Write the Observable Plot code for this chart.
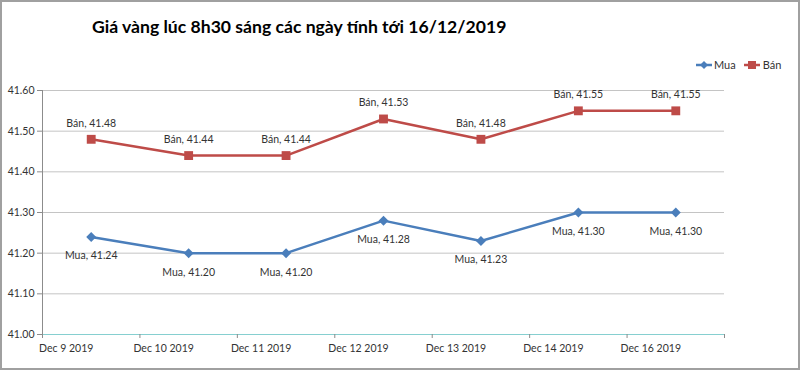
<!DOCTYPE html>
<html><head><meta charset="utf-8">
<script src="https://cdn.jsdelivr.net/npm/d3@7"></script>
<script src="https://cdn.jsdelivr.net/npm/@observablehq/plot@0.6"></script>
<style>
body{margin:0;background:#fff;}
#wrap{position:relative;width:800px;height:370px;overflow:hidden;font-family:Lato,sans-serif;background:#fff;}
#frame{position:absolute;left:0;top:0;width:800px;height:370px;border:2px solid #a0a0a0;box-sizing:border-box;pointer-events:none;}
#title{position:absolute;left:92px;top:16px;font-weight:bold;font-size:17.6px;color:#000;white-space:nowrap;}
#legend{position:absolute;left:696px;top:58px;font-size:11px;color:#333;display:flex;align-items:center;white-space:nowrap;}
#legend svg{display:block;}
#chart{position:absolute;left:0;top:75px;}
</style></head>
<body>
<div id="wrap">
  <div id="title">Giá vàng lúc 8h30 sáng các ngày tính tới 16/12/2019</div>
  <div id="legend">
    <svg width="16" height="12"><line x1="0" y1="6" x2="16" y2="6" stroke="#4a7ebb" stroke-width="2.5"/><path d="M8,2 L12,6 L8,10 L4,6Z" fill="#4a7ebb"/></svg>
    <span style="margin:0 8px 0 2px">Mua</span>
    <svg width="16" height="12"><line x1="0" y1="6" x2="16" y2="6" stroke="#be4b48" stroke-width="2.5"/><rect x="4" y="2" width="8" height="8" fill="#be4b48"/></svg>
    <span style="margin-left:3px">Bán</span>
  </div>
  <div id="chart"></div>
  <div id="frame"></div>
</div>
<script>
const dates = ["Dec 9 2019","Dec 10 2019","Dec 11 2019","Dec 12 2019","Dec 13 2019","Dec 14 2019","Dec 16 2019"];
const mua = [41.24,41.20,41.20,41.28,41.23,41.30,41.30];
const ban = [41.48,41.44,41.44,41.53,41.48,41.55,41.55];
const yTicks = [41.00,41.10,41.20,41.30,41.40,41.50,41.60];

const idx = dates.map((d,i)=>i);
const bounds = idx.map(i=>i-0.5).concat([dates.length-0.5]);
const muaData = idx.map(i=>({i, v:mua[i]}));
const banData = idx.map(i=>({i, v:ban[i]}));
const blue = "#4a7ebb", red = "#be4b48";

const chart = Plot.plot({
  width: 800,
  height: 295,
  marginTop: 15,
  marginBottom: 36,
  marginLeft: 42,
  marginRight: 76,
  style: {fontFamily: "Lato, sans-serif", fontSize: "10.5px", color: "#333", background: "transparent"},
  x: {type: "linear", domain: [-0.5, dates.length-0.5]},
  y: {domain: [41.0, 41.6]},
  marks: [
    Plot.gridY(yTicks.slice(1), {stroke: "#c4c4c4", strokeOpacity: 1}),
    Plot.ruleY([yTicks[0]], {stroke: "#86cfd0", strokeWidth: 1.2}),
    Plot.ruleX([bounds[0]], {y1: yTicks[0], y2: yTicks[yTicks.length-1], stroke: "#8c8c8c"}),
    Plot.axisY(yTicks, {tickFormat: d3.format(".2f"), tickSize: 5, tickPadding: 3, stroke: "#8c8c8c", label: null}),
    Plot.axisX(bounds, {tickFormat: () => "", tickSize: 4, stroke: "#8c8c8c", label: null}),
    Plot.axisX(idx, {tickSize: 0, tickPadding: 10, tickFormat: i => dates[i], dx: -25, label: null}),
    Plot.line(banData, {x: "i", y: "v", stroke: red, strokeWidth: 2.5}),
    Plot.line(muaData, {x: "i", y: "v", stroke: blue, strokeWidth: 2.5}),
    Plot.dot(banData, {x: "i", y: "v", symbol: "square", r: 5, fill: red}),
    Plot.dot(muaData, {x: "i", y: "v", symbol: "diamond2", r: 4.5, fill: blue}),
    Plot.text(banData, {x: "i", y: "v", text: d => `Bán, ${d.v.toFixed(2)}`, dy: -16, fill: "#333"}),
    Plot.text(muaData, {x: "i", y: "v", text: d => `Mua, ${d.v.toFixed(2)}`, dy: 19, fill: "#333"})
  ]
});
document.getElementById("chart").appendChild(chart);
</script>
</body></html>
